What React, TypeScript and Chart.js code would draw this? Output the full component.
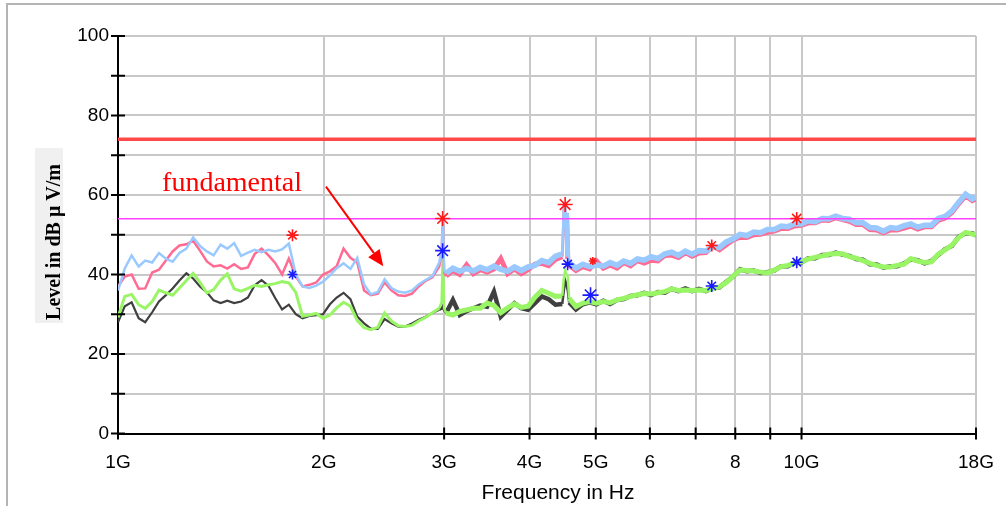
import React, { useEffect, useRef } from "react";
import { Chart, registerables } from "chart.js";

Chart.register(...registerables);

// Frequency axis in GHz (log spaced, with extra samples on the narrow spikes)
const freqGHz = [
  1.0, 1.023, 1.047, 1.072, 1.096, 1.122, 1.148, 1.175, 1.202, 1.23,
  1.259, 1.288, 1.318, 1.349, 1.38, 1.413, 1.445, 1.479, 1.514, 1.549,
  1.585, 1.622, 1.66, 1.698, 1.738, 1.778, 1.82, 1.862, 1.905, 1.95,
  1.995, 2.042, 2.089, 2.138, 2.188, 2.239, 2.291, 2.344, 2.399, 2.455,
  2.512, 2.57, 2.63, 2.692, 2.754, 2.818, 2.884, 2.951, 2.975, 2.987, 3.0,
  3.02, 3.09, 3.162, 3.236, 3.311, 3.388, 3.467, 3.548, 3.631, 3.715, 3.802, 3.89,
  3.981, 4.074, 4.169, 4.266, 4.365, 4.467, 4.49, 4.51, 4.53, 4.55,
  4.571, 4.677, 4.786, 4.898, 5.012, 5.129, 5.248, 5.37, 5.495, 5.623, 5.754, 5.888,
  6.026, 6.166, 6.31, 6.457, 6.607, 6.761, 6.918, 7.079, 7.244, 7.413,
  7.586, 7.762, 7.943, 8.128, 8.318, 8.511, 8.71, 8.913, 9.12, 9.333,
  9.55, 9.772, 10.0, 10.23, 10.47, 10.72, 10.96, 11.22, 11.48, 11.75,
  12.02, 12.3, 12.59, 12.88, 13.18, 13.49, 13.8, 14.13, 14.45, 14.79,
  15.14, 15.49, 15.85, 16.22, 16.6, 16.98, 17.38, 17.78, 18.0,
];

// Peak trace, light blue
const peakBlue = [
  36.0, 41.5, 44.8, 42.0, 43.5, 43.0, 45.4, 44.0, 43.2, 45.4,
  46.5, 49.3, 47.2, 45.8, 44.8, 47.5, 46.5, 47.9, 44.7, 45.5,
  46.2, 45.6, 46.2, 45.8, 46.3, 47.8, 40.0, 37.0, 36.6, 37.2,
  38.2, 39.8, 41.6, 42.8, 41.4, 44.2, 37.5, 35.0, 35.6, 38.8,
  36.6, 35.7, 35.4, 36.0, 37.5, 38.6, 39.6, 43.0, 46.0, 54.0, 41.0,
  40.3, 41.6, 40.8, 41.5, 40.9, 41.8, 41.2, 42.1, 41.3, 40.8, 41.9, 41.0,
  41.9, 42.3, 43.5, 43.0, 44.6, 45.2, 57.2, 57.6, 44.5, 55.5,
  43.0, 41.6, 42.6, 42.0, 42.4, 42.1, 43.0, 42.3, 43.4, 42.8, 43.9, 43.6,
  44.5, 44.0, 45.2, 45.6, 44.8, 45.9, 45.1, 46.0, 45.9, 46.9,
  46.8, 48.2, 49.0, 50.1, 49.8, 50.7, 50.5, 51.3, 51.3, 52.2,
  52.0, 52.8, 52.7, 53.5, 53.3, 54.1, 54.0, 54.7, 54.1, 53.9,
  53.0, 53.0, 51.8, 51.7, 50.9, 51.8, 51.6, 52.3, 52.7, 51.9,
  52.4, 52.4, 54.1, 54.6, 56.0, 58.2, 60.2, 59.0, 59.5,
];

// Peak trace, pink
const peakPink = [
  37.0, 39.5, 40.0, 36.4, 36.5, 40.5, 41.2, 43.5, 45.8, 47.3,
  47.6, 48.5, 46.0, 43.3, 42.0, 42.3, 41.5, 42.6, 41.4, 41.8,
  45.2, 46.5, 44.8, 42.9, 40.0, 44.0, 39.5, 37.0, 37.4, 38.0,
  40.0, 40.8, 42.1, 46.5, 44.2, 43.0, 36.0, 34.8, 35.2, 38.0,
  36.0, 34.8, 34.6, 35.2, 37.0, 38.4, 39.3, 42.0, 45.5, 53.5, 40.5,
  39.6, 41.0, 40.0, 42.4, 40.2, 41.2, 40.6, 41.4, 44.0, 40.2, 41.4, 40.2,
  41.2, 42.6, 42.8, 42.2, 43.8, 44.5, 56.5, 57.2, 44.0, 55.0,
  42.3, 41.0, 42.0, 41.4, 43.4, 41.6, 42.4, 41.6, 43.0, 42.2, 43.5, 42.9,
  43.6, 43.4, 44.8, 44.9, 44.3, 45.5, 44.6, 45.4, 45.5, 47.2,
  46.2, 47.5, 48.7, 49.4, 49.3, 50.0, 50.1, 50.6, 50.9, 51.6,
  51.6, 52.2, 52.4, 53.0, 53.0, 53.7, 53.6, 54.3, 53.8, 53.4,
  52.6, 52.6, 51.3, 51.2, 50.5, 51.2, 51.2, 51.7, 52.2, 51.4,
  52.0, 52.0, 53.6, 54.2, 55.6, 57.8, 59.8, 58.6, 59.0,
];

// Average trace, dark grey
const avgGray = [
  28.0, 32.0, 33.0, 29.0, 28.0, 30.5, 33.2, 34.8, 36.5, 38.5,
  40.3, 39.0, 37.0, 35.5, 33.5, 32.8, 33.4, 32.8, 33.2, 34.2,
  37.3, 38.6, 37.2, 34.1, 31.2, 32.4, 30.0, 29.0, 29.6, 29.8,
  30.0, 32.5, 34.2, 35.4, 33.8, 29.4, 27.7, 26.4, 26.3, 28.8,
  27.7, 26.9, 26.9, 27.7, 28.6, 29.4, 30.3, 31.1, 31.4, 32.0, 31.0,
  30.3, 33.6, 29.8, 30.8, 31.5, 32.2, 31.9, 35.7, 29.4, 31.1, 32.8, 31.5,
  31.1, 32.8, 34.5, 33.8, 32.4, 32.6, 36.0, 38.5, 37.5, 36.0,
  33.0, 31.2, 32.5, 33.0, 32.5, 33.4, 32.6, 33.6, 33.8, 34.6, 34.8, 35.4,
  34.8, 35.6, 35.4, 36.4, 35.8, 36.5, 35.8, 36.4, 35.8, 36.6,
  36.8, 38.2, 39.5, 41.3, 40.8, 41.0, 40.4, 40.6, 41.0, 42.1,
  42.1, 43.0, 43.0, 44.1, 44.1, 44.9, 44.9, 45.5, 45.0, 44.7,
  43.9, 43.7, 42.6, 42.5, 41.7, 42.1, 42.1, 42.8, 43.8, 43.6,
  42.8, 43.4, 44.9, 46.4, 47.2, 49.5, 50.4, 50.4, 49.8,
];

// Average trace, light green
const avgGreen = [
  29.2, 34.5, 35.0, 32.4, 31.5, 33.2, 36.1, 35.4, 34.8, 36.6,
  38.5, 40.3, 38.0, 35.4, 36.2, 38.6, 40.2, 36.4, 35.8, 36.5,
  37.3, 37.0, 37.4, 37.7, 38.2, 37.9, 35.5, 29.5, 29.8, 30.2,
  29.0, 29.8, 31.6, 33.0, 32.0, 28.4, 26.6, 26.1, 26.7, 30.3,
  28.3, 27.1, 26.9, 27.2, 28.3, 29.2, 30.4, 31.5, 33.0, 46.0, 31.5,
  30.3, 29.8, 30.7, 31.1, 31.5, 31.5, 32.8, 32.2, 30.4, 31.6, 32.6, 31.7,
  32.0, 34.3, 36.0, 35.3, 34.5, 34.6, 39.0, 41.0, 40.0, 39.5,
  34.0, 31.9, 32.8, 33.2, 32.8, 33.2, 32.9, 33.6, 34.0, 34.5, 34.9, 35.2,
  35.1, 35.4, 35.7, 36.4, 36.0, 36.1, 36.0, 36.1, 36.0, 36.4,
  36.9, 38.0, 39.6, 41.1, 41.0, 40.9, 40.6, 40.4, 41.1, 42.0,
  42.3, 42.8, 43.2, 43.9, 44.3, 44.7, 45.1, 45.3, 45.2, 44.5,
  44.1, 43.5, 42.8, 42.3, 41.9, 41.9, 42.3, 42.6, 44.0, 43.4,
  43.0, 43.2, 45.1, 46.2, 47.4, 49.3, 50.6, 50.2, 50.0,
];

// Limit lines (dB µV/m)
const limitPeak = 74;
const limitAvg = 54;

// Final measurement markers
const peakMarkF = [1.8, 2.985, 4.51, 4.95, 7.39, 9.84];
const peakMarkV = [49.9, 54.1, 57.6, 43.4, 47.3, 54.1];
const peakMarkR = [6, 7.5, 7.5, 4, 6, 6.5];
const avgMarkF = [1.8, 2.985, 4.548, 4.913, 7.39, 9.84];
const avgMarkV = [40.0, 46.0, 42.6, 34.8, 37.1, 43.1];
const avgMarkR = [5, 7.5, 6, 8, 6, 6];

// Axis ticks
const xTickValues = [1, 2, 3, 4, 5, 6, 7, 8, 9, 10, 18];
const xTickLabels = ["1G", "2G", "3G", "4G", "5G", "6", "", "8", "", "10G", "18G"];
const yTickValues = [0, 10, 20, 30, 40, 50, 60, 70, 80, 90, 100];
const yTickLabels = ["0", "", "20", "", "40", "", "60", "", "80", "", "100"];

// Annotation (in data coordinates: GHz, dB)
const annotText = "fundamental";
const annotAt = [1.16, 61];
const arrowFrom = [2.015, 62.1];
const arrowTo = [2.444, 42.1];

const xTitle = "Frequency in Hz";
const yTitle = "Level in dB μ V/m";

const pts = (ys: number[]) => freqGHz.map((f, i) => ({ x: f, y: ys[i] }));

// trace thickness: thin below 3 GHz and on the narrow spikes, a noisy band above
const bandWidth = (thin: number, thick: number) => (c: any) => {
  const f = c.p0.parsed.x;
  const g = c.p1.parsed.x;
  if (g <= 2.96) return thin;
  if ((f >= 2.95 && f < 3.02) || (f >= 4.46 && f < 4.571)) return 2.5;
  return thick;
};

const decorPlugin = {
  id: "decor",
  beforeDraw(chart: any) {
    const { ctx } = chart;
    ctx.save();
    ctx.fillStyle = "#f0f0f0";
    ctx.fillRect(35, 148, 28, 175);
    ctx.restore();
  },
  afterDraw(chart: any) {
    const { ctx, chartArea } = chart;
    const xs = chart.scales.x;
    const ys = chart.scales.y;
    ctx.save();
    // crossing tick marks
    ctx.strokeStyle = "#000";
    ctx.lineWidth = 2;
    for (const v of yTickValues) {
      const py = ys.getPixelForValue(v);
      ctx.beginPath();
      ctx.moveTo(chartArea.left - 7, py);
      ctx.lineTo(chartArea.left + 7, py);
      ctx.stroke();
    }
    for (const v of xTickValues) {
      const px = xs.getPixelForValue(v);
      ctx.beginPath();
      ctx.moveTo(px, chartArea.bottom - 6);
      ctx.lineTo(px, chartArea.bottom + 6);
      ctx.stroke();
    }
    // annotation text
    ctx.fillStyle = "#ff0000";
    ctx.font = '28px "Liberation Serif"';
    ctx.textAlign = "left";
    ctx.textBaseline = "alphabetic";
    ctx.fillText(annotText, xs.getPixelForValue(annotAt[0]), ys.getPixelForValue(annotAt[1]));
    // arrow
    const x0 = xs.getPixelForValue(arrowFrom[0]);
    const y0 = ys.getPixelForValue(arrowFrom[1]);
    const x1 = xs.getPixelForValue(arrowTo[0]);
    const y1 = ys.getPixelForValue(arrowTo[1]);
    const ang = Math.atan2(y1 - y0, x1 - x0);
    const hl = 16;
    const hw = 7;
    const bx = x1 - hl * Math.cos(ang);
    const by = y1 - hl * Math.sin(ang);
    ctx.strokeStyle = "#ff0000";
    ctx.lineWidth = 2;
    ctx.beginPath();
    ctx.moveTo(x0, y0);
    ctx.lineTo(bx, by);
    ctx.stroke();
    ctx.beginPath();
    ctx.moveTo(x1, y1);
    ctx.lineTo(bx + hw * Math.sin(ang), by - hw * Math.cos(ang));
    ctx.lineTo(bx - hw * Math.sin(ang), by + hw * Math.cos(ang));
    ctx.closePath();
    ctx.fill();
    // axis titles
    ctx.fillStyle = "#000";
    ctx.font = '21px "Liberation Sans"';
    ctx.textAlign = "center";
    ctx.textBaseline = "middle";
    ctx.fillText(xTitle, 558, 493);
    ctx.translate(60, 242);
    ctx.rotate(-Math.PI / 2);
    ctx.font = 'bold 20px "Liberation Serif"';
    ctx.textBaseline = "alphabetic";
    ctx.fillText(yTitle, 0, 0);
    ctx.restore();
  },
};

export default function App() {
  const ref = useRef<HTMLCanvasElement | null>(null);

  useEffect(() => {
    if (!ref.current) return;
    const gridColor = "#c8c8c8";
    const chart = new Chart(ref.current, {
      type: "line",
      data: {
        datasets: [
          {
            label: "peak markers",
            data: peakMarkF.map((f, i) => ({ x: f, y: peakMarkV[i] })),
            showLine: false,
            pointStyle: "star",
            pointRadius: peakMarkR,
            pointBorderColor: "#ff1a1a",
            pointBorderWidth: 1.6,
            order: 0,
          },
          {
            label: "avg markers",
            data: avgMarkF.map((f, i) => ({ x: f, y: avgMarkV[i] })),
            showLine: false,
            pointStyle: "star",
            pointRadius: avgMarkR,
            pointBorderColor: "#1a1aff",
            pointBorderWidth: 1.6,
            order: 0,
          },
          {
            label: "limit peak",
            data: [
              { x: 1, y: limitPeak },
              { x: 18, y: limitPeak },
            ],
            borderColor: "#ff4848",
            borderWidth: 3.5,
            pointRadius: 0,
            order: 1,
          },
          {
            label: "limit avg",
            data: [
              { x: 1, y: limitAvg },
              { x: 18, y: limitAvg },
            ],
            borderColor: "#ff40ff",
            borderWidth: 1.5,
            pointRadius: 0,
            order: 1,
          },
          {
            label: "peak V",
            data: pts(peakBlue),
            borderColor: "#99c9ff",
            borderWidth: 2.5,
            segment: { borderWidth: bandWidth(2.5, 5.5) },
            pointRadius: 0,
            tension: 0,
            order: 2,
          },
          {
            label: "peak H",
            data: pts(peakPink),
            borderColor: "#ff6b93",
            borderWidth: 2.5,
            segment: { borderWidth: bandWidth(2.5, 5) },
            pointRadius: 0,
            tension: 0,
            order: 3,
          },
          {
            label: "avg V",
            data: pts(avgGreen),
            borderColor: "#99f566",
            borderWidth: 3,
            segment: { borderWidth: bandWidth(3, 5) },
            pointRadius: 0,
            tension: 0,
            order: 4,
          },
          {
            label: "avg H",
            data: pts(avgGray),
            borderColor: "#404040",
            borderWidth: 2.2,
            segment: { borderWidth: bandWidth(2.2, 4.5) },
            pointRadius: 0,
            tension: 0,
            order: 5,
          },
        ],
      },
      options: {
        responsive: false,
        animation: false,
        events: [],
        layout: { padding: { top: 36, right: 30, bottom: 0, left: 0 } },
        plugins: { legend: { display: false }, tooltip: { enabled: false } },
        scales: {
          x: {
            type: "logarithmic",
            min: 1,
            max: 18,
            afterBuildTicks: (s: any) => {
              s.ticks = xTickValues.map((v) => ({ value: v }));
            },
            afterFit: (s: any) => {
              s.height = 72.5;
              s.paddingLeft = 0;
              s.paddingRight = 0;
            },
            ticks: {
              autoSkip: false,
              maxRotation: 0,
              minRotation: 0,
              color: "#000",
              padding: 18,
              font: { family: "Liberation Sans", size: 19 },
              callback: (_v: any, i: number) => xTickLabels[i] ?? "",
            },
            grid: { color: gridColor, lineWidth: 2, drawTicks: false },
            border: { display: true, color: "#000", width: 2 },
          },
          y: {
            type: "linear",
            min: 0,
            max: 100,
            afterBuildTicks: (s: any) => {
              s.ticks = yTickValues.map((v) => ({ value: v }));
            },
            afterFit: (s: any) => {
              s.width = 118;
              s.paddingTop = 0;
              s.paddingBottom = 0;
            },
            ticks: {
              color: "#000",
              padding: 9,
              font: { family: "Liberation Sans", size: 19 },
              callback: (_v: any, i: number) => yTickLabels[i] ?? "",
            },
            grid: { color: gridColor, lineWidth: 2, drawTicks: false },
            border: { display: true, color: "#000", width: 2 },
          },
        },
      },
      plugins: [decorPlugin],
    } as any);
    return () => chart.destroy();
  }, []);

  return (
    <div
      style={{
        position: "fixed",
        left: 0,
        top: 0,
        width: 1006,
        height: 506,
        overflow: "hidden",
        background: "#fff",
      }}
    >
      <div
        style={{
          position: "absolute",
          left: 6,
          top: 3,
          width: 1200,
          height: 700,
          borderTop: "2px solid #b4b4b4",
          borderLeft: "2px solid #b4b4b4",
        }}
      />
      <canvas
        ref={ref}
        width={1006}
        height={506}
        style={{ position: "absolute", left: 0, top: 0, width: 1006, height: 506 }}
      />
    </div>
  );
}
